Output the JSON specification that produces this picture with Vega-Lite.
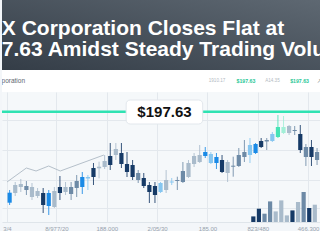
{
  "$schema": "https://vega.github.io/schema/vega-lite/v6.json",
  "background": "#f3f6f9",
  "padding": 0,
  "spacing": 0,
  "config": {"view": {"stroke": null}, "concat": {"spacing": 0}},
  "datasets": {
    "candles": [
      {"t":1,"open":188.53,"close":189.53,"high":189.8,"low":188.3,"tone":"blue"},
      {"t":2,"open":189.5,"close":190.3,"high":190.6,"low":189.2,"tone":"mist"},
      {"t":3,"open":190.1,"close":190.4,"high":190.9,"low":189.6,"tone":"mist"},
      {"t":4,"open":189.8,"close":190.2,"high":190.7,"low":189.3,"tone":"slate"},
      {"t":5,"open":189.1,"close":190.1,"high":190.5,"low":188.8,"tone":"mist"},
      {"t":6,"open":189.2,"close":189.7,"high":190.0,"low":189.0,"tone":"mist"},
      {"t":7,"open":188.3,"close":189.5,"high":190.0,"low":187.5,"tone":"navy"},
      {"t":8,"open":188.2,"close":189.5,"high":189.8,"low":187.3,"tone":"blue"},
      {"t":9,"open":188.1,"close":189.7,"high":190.1,"low":188.0,"tone":"mist"},
      {"t":10,"open":189.5,"close":190.1,"high":191.2,"low":188.8,"tone":"navy"},
      {"t":11,"open":189.6,"close":190.1,"high":190.6,"low":189.3,"tone":"mist"},
      {"t":12,"open":189.4,"close":190.1,"high":190.6,"low":188.8,"tone":"slate"},
      {"t":13,"open":190.0,"close":190.7,"high":191.3,"low":189.1,"tone":"slate"},
      {"t":14,"open":190.1,"close":191.1,"high":191.6,"low":189.4,"tone":"blue"},
      {"t":15,"open":190.95,"close":191.1,"high":191.3,"low":189.8,"tone":"sky"},
      {"t":16,"open":191.1,"close":192.0,"high":192.5,"low":190.3,"tone":"navy"},
      {"t":17,"open":191.97,"close":192.13,"high":192.63,"low":190.97,"tone":"mist"},
      {"t":18,"open":192.1,"close":192.7,"high":193.3,"low":191.9,"tone":"mist"},
      {"t":19,"open":192.3,"close":193.2,"high":194.5,"low":191.8,"tone":"navy"},
      {"t":20,"open":193.3,"close":193.9,"high":194.5,"low":192.8,"tone":"mist"},
      {"t":21,"open":192.4,"close":193.5,"high":194.5,"low":192.0,"tone":"navy"},
      {"t":22,"open":191.6,"close":192.4,"high":193.6,"low":191.1,"tone":"navy"},
      {"t":23,"open":191.1,"close":192.3,"high":192.8,"low":190.8,"tone":"navy"},
      {"t":24,"open":190.8,"close":191.5,"high":191.8,"low":190.5,"tone":"slate"},
      {"t":25,"open":190.2,"close":191.0,"high":191.5,"low":190.0,"tone":"navy"},
      {"t":26,"open":189.6,"close":190.3,"high":190.6,"low":188.5,"tone":"navy"},
      {"t":27,"open":189.3,"close":190.2,"high":190.6,"low":188.5,"tone":"navy"},
      {"t":28,"open":189.6,"close":190.5,"high":190.6,"low":189.5,"tone":"sky"},
      {"t":29,"open":189.8,"close":190.8,"high":191.8,"low":189.5,"tone":"mist"},
      {"t":30,"open":190.55,"close":190.65,"high":191.0,"low":190.3,"tone":"sky"},
      {"t":31,"open":190.7,"close":190.8,"high":191.13,"low":189.8,"tone":"slate"},
      {"t":32,"open":190.6,"close":191.7,"high":192.6,"low":190.5,"tone":"slate"},
      {"t":33,"open":191.1,"close":192.5,"high":192.8,"low":191.0,"tone":"mist"},
      {"t":34,"open":192.4,"close":193.2,"high":193.5,"low":192.1,"tone":"mist"},
      {"t":35,"open":192.6,"close":193.3,"high":194.3,"low":192.5,"tone":"mist"},
      {"t":36,"open":193.2,"close":193.6,"high":194.1,"low":193.0,"tone":"blue"},
      {"t":37,"open":192.5,"close":193.4,"high":193.6,"low":192.4,"tone":"sky"},
      {"t":38,"open":192.5,"close":193.1,"high":193.5,"low":191.9,"tone":"blue"},
      {"t":39,"open":191.6,"close":192.8,"high":193.3,"low":191.5,"tone":"navy"},
      {"t":40,"open":191.5,"close":192.6,"high":192.8,"low":190.6,"tone":"mist"},
      {"t":41,"open":192.13,"close":192.23,"high":193.13,"low":191.13,"tone":"slate"},
      {"t":42,"open":192.2,"close":193.3,"high":194.0,"low":192.1,"tone":"slate"},
      {"t":43,"open":193.1,"close":193.6,"high":194.8,"low":192.6,"tone":"slate"},
      {"t":44,"open":193.3,"close":194.3,"high":195.0,"low":192.5,"tone":"sky"},
      {"t":45,"open":193.5,"close":194.4,"high":194.5,"low":193.4,"tone":"blue"},
      {"t":46,"open":194.1,"close":194.7,"high":195.0,"low":194.0,"tone":"navy"},
      {"t":47,"open":194.65,"close":194.8,"high":195.0,"low":193.8,"tone":"slate"},
      {"t":48,"open":194.7,"close":195.4,"high":195.6,"low":194.6,"tone":"sky"},
      {"t":49,"open":195.1,"close":196.1,"high":197.3,"low":195.0,"tone":"mint"},
      {"t":50,"open":195.5,"close":196.1,"high":197.2,"low":195.4,"tone":"pale"},
      {"t":51,"open":195.5,"close":196.2,"high":196.3,"low":195.3,"tone":"mist"},
      {"t":52,"open":195.7,"close":195.8,"high":196.2,"low":195.3,"tone":"slate"},
      {"t":53,"open":193.8,"close":195.4,"high":196.3,"low":193.5,"tone":"navy"},
      {"t":54,"open":193.1,"close":194.1,"high":194.4,"low":192.2,"tone":"slate"},
      {"t":55,"open":193.1,"close":194.1,"high":194.8,"low":192.2,"tone":"navy"},
      {"t":56,"open":192.8,"close":193.6,"high":194.0,"low":192.3,"tone":"slate"}
    ],
    "volume": [
      {"t":44.6,"vol":224,"tone":"navy"},
      {"t":45.6,"vol":532,"tone":"navy"},
      {"t":46.6,"vol":332,"tone":"slate"},
      {"t":47.6,"vol":824,"tone":"slate"},
      {"t":48.6,"vol":424,"tone":"mist"},
      {"t":49.6,"vol":864,"tone":"mist"},
      {"t":50.6,"vol":264,"tone":"mist"},
      {"t":51.6,"vol":464,"tone":"navy"},
      {"t":52.6,"vol":800,"tone":"mist"},
      {"t":53.6,"vol":1200,"tone":"slate"},
      {"t":54.6,"vol":560,"tone":"navy"},
      {"t":55.6,"vol":692,"tone":"mist"}
    ],
    "avg": [
      {"t":0.53,"price":190.6},
      {"t":3.99,"price":192.0},
      {"t":5.73,"price":191.7},
      {"t":7.98,"price":192.2},
      {"t":10.06,"price":191.7},
      {"t":17.86,"price":193.3}
    ],
    "name": [{"t":4.52,"label":"X Corporation"}],
    "quotes": [
      {"t":37.8,"label":"1910.17","kind":"muted"},
      {"t":42.8,"label":"$197.63","kind":"price"},
      {"t":47.4,"label":"A14.35","kind":"muted"},
      {"t":52.1,"label":"$197.63","kind":"price"},
      {"t":55.5,"label":"↗","kind":"icon"}
    ],
    "title": [{"text":"X Corporation Closes Flat at $197.63 Amidst Steady Trading Volume"}]
  },
  "vconcat": [
    {
      "width": 320,
      "height": 70,
      "data": {"name": "title"},
      "layer": [
        {
          "mark": {"type": "rect", "color": {"gradient": "linear", "x1": 0, "y1": 1, "x2": 1, "y2": 0, "stops": [{"offset": 0, "color": "#343d47"}, {"offset": 1, "color": "#5e6872"}]}},
          "encoding": {}
        },
        {
          "mark": {"type": "text", "clip": true, "align": "center", "baseline": "alphabetic", "dx": -19, "font": "Liberation Sans", "fontWeight": "bold", "fontSize": 21, "color": "#ffffff"},
          "encoding": {"text": {"value": "X Corporation Closes Flat at"}}
        },
        {
          "mark": {"type": "text", "clip": true, "align": "center", "baseline": "alphabetic", "dx": -1, "dy": 21, "font": "Liberation Sans", "fontWeight": "bold", "fontSize": 21, "color": "#ffffff"},
          "encoding": {"text": {"value": "$197.63 Amidst Steady Trading Volume"}}
        }
      ]
    },
    {
      "width": 320,
      "height": 22,
      "view": {"fill": "#ffffff"},
      "encoding": {
        "x": {"field": "t", "type": "quantitative", "scale": {"domain": [0.53, 55.99], "nice": false, "zero": false}, "axis": null}
      },
      "layer": [
        {
          "data": {"name": "name"},
          "mark": {"type": "text", "clip": true, "align": "right", "baseline": "middle", "font": "Liberation Sans", "fontSize": 6.5, "color": "#5d6670"},
          "encoding": {"text": {"field": "label"}}
        },
        {
          "data": {"name": "quotes"},
          "transform": [{"filter": "datum.kind === 'muted'"}],
          "mark": {"type": "text", "align": "center", "baseline": "middle", "font": "Liberation Sans", "fontSize": 4.6, "color": "#b3bac2"},
          "encoding": {"text": {"field": "label"}}
        },
        {
          "data": {"name": "quotes"},
          "transform": [{"filter": "datum.kind === 'price'"}],
          "mark": {"type": "text", "align": "center", "baseline": "middle", "font": "Liberation Sans", "fontWeight": "bold", "fontSize": 5.2, "color": "#27c796"},
          "encoding": {"text": {"field": "label"}}
        },
        {
          "data": {"name": "quotes"},
          "transform": [{"filter": "datum.kind === 'icon'"}],
          "mark": {"type": "text", "clip": true, "align": "center", "baseline": "middle", "font": "DejaVu Sans", "fontSize": 6, "color": "#6a7480"},
          "encoding": {"text": {"field": "label"}}
        }
      ]
    },
    {
      "width": 320,
      "height": 130,
      "view": {"fill": "#f5f8fa"},
      "layer": [
        {
          "layer": [
            {
              "data": {"name": "avg"},
              "mark": {"type": "line", "clip": true, "color": "#b5c0ca", "strokeWidth": 1},
              "encoding": {
                "x": {"field": "t", "type": "quantitative", "scale": {"domain": [0.53, 55.99], "nice": false, "zero": false},
                  "axis": {"title": null, "values": [0.53, 4.86, 9.37, 13.87, 18.38, 22.88, 27.39, 31.9, 36.4, 40.9, 45.4, 49.9, 54.4],
                    "labelExpr": "['3/4','2/06/30','8/977/20','9/30/30','188.000','144.13','2/05/30','197/30','185.00','178/600','823/480','047.00','466.300'][indexof([0.53, 4.86, 9.37, 13.87, 18.38, 22.88, 27.39, 31.9, 36.4, 40.9, 45.4, 49.9, 54.4], datum.value)]",
                    "labelFlush": true, "labelOverlap": false, "labelFontSize": 6, "labelColor": "#97a2ad", "labelFont": "Liberation Sans", "labelPadding": 3, "ticks": false,
                    "domainColor": "#dfe5ea", "gridColor": "#e3e8ed", "grid": true}},
                "y": {"field": "price", "type": "quantitative", "scale": {"domain": [186.6, 199.6], "nice": false, "zero": false},
                  "axis": {"title": null, "labels": false, "ticks": false, "domain": false, "grid": true, "gridColor": "#e3e8ed", "values": [196.8, 193.8, 190.8, 188.0]}}
              }
            },
            {
              "data": {"name": "candles"},
              "mark": {"type": "rule", "clip": true, "strokeWidth": 1, "opacity": 0.85},
              "encoding": {
                "x": {"field": "t", "type": "quantitative"},
                "y": {"field": "low", "type": "quantitative"},
                "y2": {"field": "high"},
                "color": {"field": "tone", "type": "nominal", "scale": {"domain": ["navy", "blue", "sky", "slate", "mist", "mint", "pale"], "range": ["#163a66", "#1a8ae6", "#86c6f0", "#6d8aa6", "#a9bbcb", "#45e3b5", "#a2efd7"]}, "legend": null}
              }
            },
            {
              "data": {"name": "candles"},
              "mark": {"type": "bar", "clip": true, "size": 4.2},
              "encoding": {
                "x": {"field": "t", "type": "quantitative"},
                "y": {"field": "open", "type": "quantitative"},
                "y2": {"field": "close"},
                "color": {"field": "tone", "type": "nominal", "legend": null}
              }
            },
            {
              "data": {"name": "title"},
              "mark": {"type": "rule", "color": "#2fe2b2", "strokeWidth": 2.5},
              "encoding": {"y": {"datum": 197.63, "type": "quantitative"}}
            },
            {
              "data": {"name": "title"},
              "mark": {"type": "rect", "fill": "#ffffff", "stroke": "#e2e7ec", "strokeWidth": 1, "cornerRadius": 4},
              "encoding": {
                "x": {"datum": 21.85, "type": "quantitative"},
                "x2": {"datum": 35.54},
                "y": {"datum": 198.8, "type": "quantitative"},
                "y2": {"datum": 196.4}
              }
            },
            {
              "data": {"name": "title"},
              "mark": {"type": "text", "align": "center", "baseline": "middle", "font": "Liberation Sans", "fontWeight": "bold", "fontSize": 15, "color": "#111111"},
              "encoding": {
                "x": {"datum": 28.7, "type": "quantitative"},
                "y": {"datum": 197.63, "type": "quantitative"},
                "text": {"value": "$197.63"}
              }
            }
          ]
        },
        {
          "data": {"name": "volume"},
          "mark": {"type": "bar", "clip": true, "size": 4.2},
          "encoding": {
            "x": {"field": "t", "type": "quantitative"},
            "y": {"field": "vol", "type": "quantitative", "scale": {"domain": [0, 5200], "nice": false}, "axis": null},
            "color": {"field": "tone", "type": "nominal", "legend": null}
          }
        }
      ],
      "resolve": {"scale": {"y": "independent"}}
    }
  ]
}
